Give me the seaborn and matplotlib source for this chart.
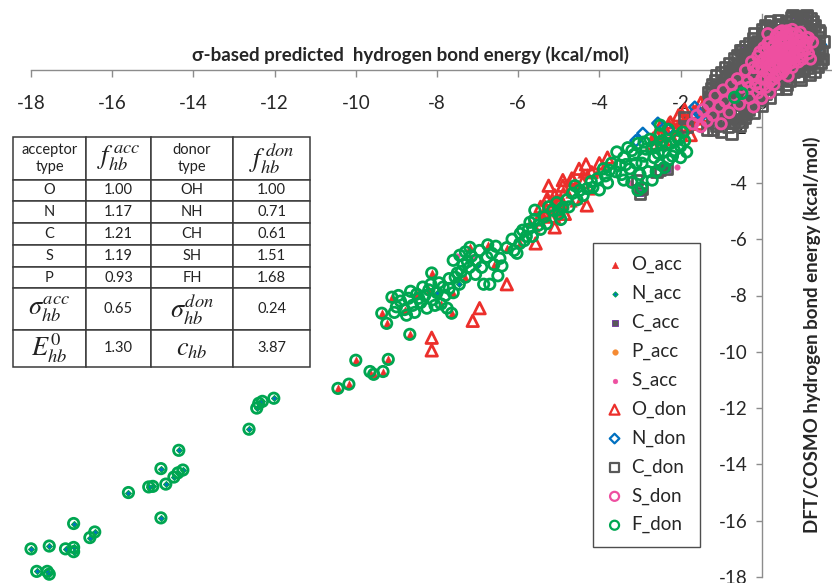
import matplotlib
matplotlib.use("Agg")
import matplotlib.pyplot as plt
import seaborn as sns

sns.set_theme(style="white")
plt.rcParams['font.family'] = ['Lato', 'DejaVu Sans']
plt.rcParams['mathtext.fontset'] = 'stix'

# ---------------- data ----------------
F_don_x = [-18.0, -17.55, -17.86, -17.6, -17.55, -17.15, -16.95, -16.95, -16.95, -16.55, -16.43,
           -15.6, -15.1, -15.0, -14.68, -14.8, -14.48, -14.38, -14.26, -14.36, -14.8,
           -12.63, -12.44, -12.39, -12.3, -12.02,
           -10.44, -10.17, -9.65, -9.56, -9.33, -10.0, -9.2, -8.67, -9.36, -9.24, -9.11, -8.13,
           -9.0, -8.9, -8.8, -8.7, -8.6, -8.5, -8.4, -8.3, -8.2, -8.1, -8.0, -7.9, -7.85, -7.75,
           -7.7, -7.6, -7.5, -7.45, -7.35, -7.3, -7.2, -7.15, -7.6, -7.44, -6.77, -6.45, -7.19,
           -6.75, -6.9, -6.6, -6.5, -6.85, -6.7, -7.64,
           -9.05, -8.95, -8.75, -8.65, -8.55, -8.45, -8.35, -8.25, -8.15, -8.05, -7.95, -7.8,
           -7.7, -7.55, -7.4, -7.25, -7.05, -6.95, -6.65, -6.55, -7.3, -7.05, -6.4,
           -6.28, -6.03, -5.96, -5.89, -5.8, -5.71, -5.59, -5.5, -5.35, -5.15, -5.0, -4.9, -4.8,
           -4.66, -4.55, -4.48, -4.3, -4.16, -4.05, -3.9, -3.8,
           -6.15, -6.1, -5.95, -5.85, -5.75, -5.65, -5.6, -5.45, -5.3, -5.25, -5.05, -4.95,
           -4.75, -4.6, -4.4, -4.2, -4.0, -3.85, -3.75,
           -3.57, -3.5, -3.4, -3.3, -3.25, -3.2, -3.15, -3.05, -3.05, -2.96, -2.95, -2.85, -2.8,
           -2.75, -2.65, -2.6, -2.5, -2.45, -2.4, -2.3, -2.25, -2.15, -2.1, -2.0, -1.9, -1.85,
           -3.45, -2.7, -3.7,
           -3.6, -3.35, -3.1, -3.0, -2.9, -2.7, -2.55, -2.35, -2.2, -2.05, -1.95, -2.5, -2.9,
           -3.2, -2.6, -2.4, -2.0, -3.4, -2.5, -2.3,
           -0.67, -0.49]
F_don_y = [-17.0, -16.9, -17.8, -17.8, -17.9, -17.0, -16.95, -17.1, -16.1, -16.6, -16.4,
           -15.0, -14.8, -14.78, -14.7, -14.15, -14.45, -14.3, -14.2, -13.5, -15.9,
           -12.75, -12.0, -11.83, -11.76, -11.65,
           -11.3, -11.15, -10.7, -10.8, -10.7, -10.3, -10.27, -9.38, -8.63, -8.99, -8.06, -7.2,
           -8.4, -8.2, -8.5, -8.1, -8.35, -7.95, -8.25, -8.0, -7.8, -8.15, -7.9, -8.3, -7.7, -8.45,
           -7.4, -7.9, -7.2, -7.6, -6.9, -7.35, -7.0, -6.6, -6.75, -6.57, -6.64, -6.68, -6.29,
           -6.2, -7.0, -6.9, -7.3, -7.6, -7.6, -8.63,
           -8.6, -8.0, -8.7, -7.85, -8.6, -8.1, -7.7, -8.45, -7.6, -8.35, -7.55, -8.0,
           -7.75, -7.35, -7.15, -6.8, -6.75, -6.4, -6.5, -6.25, -6.45, -7.25, -6.95,
           -6.3, -6.5, -6.15, -5.68, -5.9, -5.4, -4.97, -5.5, -5.2, -4.97, -5.1, -4.87, -4.6,
           -4.37, -4.6, -4.26, -4.2, -4.16, -3.85, -3.5, -4.0,
           -6.0, -6.4, -5.8, -6.05, -5.65, -5.9, -5.3, -5.65, -5.45, -4.85, -4.7, -5.3,
           -4.85, -4.1, -4.45, -3.95, -4.25, -3.75, -3.55,
           -2.9, -3.37, -3.1, -2.75, -3.5, -3.98, -3.0, -4.26, -2.6, -4.16, -3.3, -2.8, -3.6,
           -2.45, -3.1, -2.7, -3.35, -2.5, -2.9, -3.2, -2.6, -2.85, -2.35, -2.7, -2.5, -2.9,
           -3.7, -3.9, -3.3,
           -3.6, -3.35, -3.3, -3.7, -2.55, -2.75, -2.95, -2.65, -3.05, -2.45, -2.2, -2.25, -3.05,
           -2.85, -3.6, -3.45, -3.1, -3.9, -1.95, -2.1,
           -0.96, -0.82]

O_don_x = [-8.13, -8.13, -7.12, -6.95, -6.28, -5.57, -5.1, -5.1, -4.68, -4.33, -4.19, -4.31,
           -4.41, -4.66,
           -5.5, -5.45, -5.35, -5.3, -5.2, -5.15, -5.0, -4.95, -4.85, -5.25, -4.9,
           -4.0, -3.8, -4.5, -4.9,
           -2.7, -2.6, -2.5, -2.45, -2.35, -2.25, -2.2, -2.1, -2.05, -1.95, -1.9, -1.8, -1.75,
           -1.65, -1.55, -1.5, -1.4, -1.35, -1.2, -1.05,
           -0.25, -0.1, -0.45]
O_don_y = [-9.5, -9.95, -8.9, -8.45, -7.6, -6.15, -5.58, -4.44, -3.84, -3.34, -3.62, -4.8,
           -3.98, -3.9,
           -5.3, -4.85, -5.05, -4.6, -5.2, -4.8, -4.95, -4.6, -5.1, -4.1, -3.9,
           -3.3, -3.1, -3.5, -4.1,
           -2.6, -2.3, -2.0, -2.6, -2.2, -1.85, -2.45, -2.1, -1.6, -1.95, -1.4, -1.75, -2.3,
           -1.5, -1.9, -1.15, -1.6, -1.0, -0.8, -0.5,
           0.65, 0.5, 0.3]

O_acc_x = [-10.44, -10.17, -9.65, -9.56, -9.33, -10.0, -9.2, -8.67, -9.36, -9.24, -9.11, -8.13,
           -8.8, -8.5, -8.2, -7.9, -7.6, -7.3, -7.19, -6.75, -7.64, -6.6, -6.28, -5.96, -5.71,
           -5.4, -5.2, -5.0, -5.3, -4.9, -4.5, -4.2,
           -2.6, -2.4, -2.2, -2.0, -1.8, -1.6, -1.5, -1.3, -0.2,
           -2.7, -2.55, -2.45, -2.3, -2.15, -2.05, -1.95, -1.85, -1.7, -1.65, -1.45, -1.4, -1.25,
           -5.45, -5.35, -5.1, -5.05, -4.85, -4.75, -4.6, -4.45, -4.3, -5.55, -4.65,
           -5.25, -5.15, -4.95, -4.8, -4.05, -3.9]
O_acc_y = [-11.3, -11.15, -10.7, -10.8, -10.7, -10.3, -10.27, -9.38, -8.63, -8.99, -8.06, -7.2,
           -8.5, -7.95, -7.8, -8.3, -7.9, -7.35, -6.29, -6.2, -8.63, -6.9, -6.3, -6.15, -5.4,
           -5.1, -4.75, -5.0, -4.4, -4.2, -4.6, -4.3,
           -2.4, -2.1, -1.9, -2.2, -1.6, -1.4, -1.8, -1.2, 0.6,
           -2.3, -2.0, -2.35, -1.75, -2.2, -1.8, -1.5, -2.0, -1.3, -1.8, -1.35, -1.0, -0.9,
           -5.2, -4.7, -4.5, -5.3, -4.8, -4.4, -4.0, -3.7, -3.6, -5.6, -4.7,
           -5.0, -4.55, -4.75, -4.3, -3.6, -3.4]

N_acc_x = [-18.0, -17.55, -17.86, -17.6, -17.55, -17.15, -16.95, -16.95, -16.95, -16.55, -16.43,
           -15.6, -15.1, -15.0, -14.68, -14.8, -14.48, -14.38, -14.26, -14.36, -14.8,
           -12.63, -12.44, -12.39, -12.3, -12.02,
           -3.0, -2.7, -2.4, -7.0, -7.45, -8.0, 0.76, 1.1, 0.12, -0.47]
N_acc_y = [-17.0, -16.9, -17.8, -17.8, -17.9, -17.0, -16.95, -17.1, -16.1, -16.6, -16.4,
           -15.0, -14.8, -14.78, -14.7, -14.15, -14.45, -14.3, -14.2, -13.5, -15.9,
           -12.75, -12.0, -11.83, -11.76, -11.65,
           -2.9, -2.6, -2.8, -6.9, -7.6, -7.9, 1.95, 1.95, 1.53, 0.71]

C_acc_x = [0.76, 1.1, 0.12, -0.47, -1.9, -3.0, -2.34, 0.4, -0.6]
C_acc_y = [1.95, 1.95, 1.53, 0.71, -1.67, -4.37, -3.5, 0.9, -1.0]

P_acc_x = [0.3, 0.9, -0.6]
P_acc_y = [0.3, 0.8, -0.9]

S_acc_x = [-7.14, -7.5, -2.1, -3.25, 0.5, -1.0]
S_acc_y = [-6.64, -6.6, -3.45, -4.0, 0.6, -1.2]

N_don_x = [-2.93, -2.56, -1.65, -1.55, -1.48, -3.1, -2.3, 1.45]
N_don_y = [-2.24, -1.88, -1.31, -1.53, -1.6, -2.5, -2.1, 0.9]

C_don_x = [0.76, 1.1, 0.12, -0.47, -1.9, -1.85, -1.35, -1.2, -3.08, -2.96, -2.51, -2.34, -3.0,
           -2.59,
           0.72, 0.83, 0.98, 1.12, 1.22,
           0.08, 0.32, 0.48, 0.71, 0.92, 1.08, 1.31,
           -0.18, 0.02, 0.21, 0.42, 0.58, 0.81, 1.03, 1.19, 1.42,
           -0.31, -0.12, 0.11, 0.28, 0.52, 0.69, 0.91, 1.12, 1.33, 1.52,
           -0.52, -0.28, -0.09, 0.12, 0.31, 0.49, 0.72, 0.88, 1.11, 1.29, 1.48,
           -0.68, -0.49, -0.32, -0.08, 0.09, 0.33, 0.51, 0.68, 0.92, 1.08, 1.31, 1.5,
           -0.91, -0.72, -0.48, -0.29, -0.11, 0.12, 0.28, 0.49, 0.71, 0.88, 1.13, 1.38,
           -1.12, -0.88, -0.71, -0.52, -0.28, -0.12, 0.09, 0.32, 0.51, 0.69, 0.92, 1.18,
           -1.21, -0.98, -0.82, -0.58, -0.41, -0.19, 0.02, 0.21, 0.38, 0.62,
           -1.32, -1.08, -0.92, -0.69, -0.52, -0.31, -0.09, 0.11,
           -1.29, -1.12, -0.88, -0.71, -0.49, -0.28, -0.08,
           -1.31, -1.09, -0.91, -0.68, -0.52, -0.31,
           -1.22, -0.98, -0.79, -0.61, -0.42,
           -1.12, -0.83, -0.55,
           0.6, 0.85, 1.05, 1.25, 0.2, 0.4,
           0.0, 0.2, 0.4, 0.6, 0.8, 1.0, 1.2, 1.4,
           -0.2, 0.0, 0.2, 0.4, 0.6, 0.8, 1.0, 1.2, 1.4,
           -0.4, -0.2, 0.0, 0.2, 0.4, 0.6, 0.8, 1.0, 1.2, 1.4,
           -0.6, -0.4, -0.2, 0.0, 0.2, 0.4, 0.6, 0.8, 1.0, 1.2, 1.4,
           -0.8, -0.6, -0.4, -0.2, 0.0, 0.2, 0.4, 0.6, 0.8, 1.0, 1.2, 1.45,
           -1.0, -0.8, -0.6, -0.4, -0.2, 0.0, 0.2, 0.4, 0.6, 0.8, 1.0, 1.3,
           -1.15, -0.9, -0.7, -0.5, -0.3, -0.1, 0.1, 0.3, 0.5, 0.7, 0.95,
           -1.25, -1.0, -0.8, -0.6, -0.4, -0.2, 0.0, 0.2, 0.4, 0.6,
           -1.3, -1.0, -0.8, -0.6, -0.4, -0.2, 0.0, 0.2,
           -1.2, -1.0, -0.8, -0.6, -0.4, -0.2, 0.0,
           -1.2, -1.0, -0.8, -0.6, -0.4, -0.2,
           -1.15, -0.9, -0.7, -0.5,
           -1.0, -0.75]
C_don_y = [1.95, 1.95, 1.53, 0.71, -1.67, -2.0, -2.13, -2.13, -3.9, -4.2, -3.55, -3.5, -4.37,
           -3.62,
           1.88, 1.93, 1.86, 1.91, 1.84,
           1.62, 1.57, 1.64, 1.58, 1.63, 1.56, 1.6,
           1.32, 1.27, 1.34, 1.28, 1.33, 1.26, 1.31, 1.29, 1.35,
           0.98, 1.03, 0.97, 1.02, 0.96, 1.04, 0.99, 1.01, 0.97, 1.03,
           0.72, 0.68, 0.73, 0.67, 0.71, 0.69, 0.74, 0.66, 0.72, 0.7, 0.68,
           0.42, 0.38, 0.43, 0.37, 0.41, 0.39, 0.44, 0.36, 0.42, 0.38, 0.41, 0.4,
           0.12, 0.08, 0.13, 0.07, 0.11, 0.09, 0.14, 0.06, 0.12, 0.1, 0.08, 0.13,
           -0.18, -0.22, -0.17, -0.23, -0.19, -0.21, -0.16, -0.24, -0.18, -0.2, -0.22, -0.17,
           -0.48, -0.52, -0.47, -0.53, -0.49, -0.51, -0.46, -0.54, -0.48, -0.5,
           -0.78, -0.82, -0.77, -0.83, -0.79, -0.81, -0.76, -0.84,
           -1.08, -1.12, -1.07, -1.13, -1.09, -1.11, -1.06,
           -1.38, -1.42, -1.37, -1.43, -1.39, -1.41,
           -1.68, -1.72, -1.67, -1.73, -1.69,
           -1.98, -2.02, -1.97,
           1.75, 1.77, 1.73, 1.76, 1.74, 1.78,
           1.45, 1.47, 1.43, 1.46, 1.44, 1.48, 1.45, 1.43,
           1.15, 1.17, 1.13, 1.16, 1.14, 1.18, 1.15, 1.13, 1.16,
           0.85, 0.87, 0.83, 0.86, 0.84, 0.88, 0.85, 0.83, 0.86, 0.84,
           0.55, 0.57, 0.53, 0.56, 0.54, 0.58, 0.55, 0.53, 0.56, 0.54, 0.57,
           0.25, 0.27, 0.23, 0.26, 0.24, 0.28, 0.25, 0.23, 0.26, 0.24, 0.27, 0.25,
           -0.05, -0.03, -0.07, -0.04, -0.06, -0.02, -0.05, -0.07, -0.04, -0.06, -0.03, -0.05,
           -0.35, -0.33, -0.37, -0.34, -0.36, -0.32, -0.35, -0.37, -0.34, -0.36, -0.33,
           -0.65, -0.63, -0.67, -0.64, -0.66, -0.62, -0.65, -0.67, -0.64, -0.66,
           -0.95, -0.93, -0.97, -0.94, -0.96, -0.92, -0.95, -0.97,
           -1.25, -1.23, -1.27, -1.24, -1.26, -1.22, -1.25,
           -1.55, -1.53, -1.57, -1.54, -1.56, -1.52,
           -1.85, -1.83, -1.87, -1.84,
           -2.2, -2.25]

S_don_x = [-1.7, -1.6, -1.5, -1.45, -1.35, -1.3, -1.2, -1.15, -1.05, -1.0, -0.95, -0.9, -0.8,
           -0.75, -0.7, -0.6, -0.55, -0.5, -0.4, -0.35, -0.3, -0.25, -0.2, -0.1, -0.05, 0.0,
           0.05, 0.1, 0.15, 0.2, 0.25, 0.3, 0.35, 0.4, 0.45, 0.5, 0.55, 0.6, 0.65, 0.7, 0.75,
           0.8, 0.85, 0.9, 0.95, 1.0, 1.1, 1.15, 1.2, 0.3, 0.5, 0.0, -0.2, 0.2, 0.45, 0.6, 0.15,
           0.94, 1.1, 0.62,
           0.1, 0.2, 0.3, 0.4, 0.5, 0.6, 0.7, 0.8, 0.9, 1.0, 0.35, 0.55, 0.75, 0.65, 0.85, 0.45,
           0.25, 0.05, -0.1, 0.0, 0.15, 0.35, 0.55, 0.7, 0.9, 1.05, 1.15, 1.25, 0.95, 0.75, 0.4,
           0.6, 0.2, -0.15, 0.1, 0.3, 0.5, 0.8, 0.7, 0.45,
           -0.3, -0.1, 0.1, 0.3, 0.0, 0.2, -0.2, 0.4, 0.6, 0.8, 1.0, 0.25, 0.5, 0.15, 0.35,
           -0.05, 0.7, 0.9, 1.1, 0.55]
S_don_y = [-1.9, -1.6, -2.0, -1.4, -1.8, -1.2, -1.6, -0.9, -1.3, -1.9, -0.7, -1.1, -1.5,
           -0.5, -0.9, -0.3, -1.2, -0.6, 0.0, -0.4, -1.0, 0.3, -0.2, 0.5, -0.6, 0.1,
           0.8, -0.3, 0.4, 1.0, 0.0, 0.6, 1.2, 0.2, 0.8, 1.4, 0.4, 1.0, -0.2, 0.7, 1.3,
           0.3, 0.9, 1.2, 0.5, 1.1, 0.8, 1.15, 0.4, -0.5, -0.1, -1.0, -1.3, -0.8, 1.35, 1.3, 1.3,
           1.07, 1.17, 1.4,
           0.2, 0.5, 0.9, 0.5, 0.9, 0.6, 1.0, 0.6, 1.0, 0.7, 0.3, 0.2, 0.1, 1.2, 1.3, 1.1,
           0.8, 0.4, 0.1, -0.3, -0.1, -0.2, 0.0, 0.4, 0.3, 0.9, 0.6, 1.0, 1.35, 1.45, 1.3,
           0.3, -0.4, -0.5, 0.7, 0.1, 0.5, 0.85, 0.75, 0.65,
           -0.6, -0.8, -0.6, -0.3, 0.3, 0.2, 0.1, -0.1, 0.1, 0.45, 0.4, 0.55, 0.75, 0.95, 0.7,
           0.65, 0.25, 0.65, 1.0, 1.05]

x_ticks = [-18, -16, -14, -12, -10, -8, -6, -4, -2, 0]
y_ticks = [-18, -16, -14, -12, -10, -8, -6, -4, -2, 0]

table_rows = [
    ["acceptor\ntype", r"$f_{hb}^{\,acc}$", "donor\ntype", r"$f_{hb}^{\,don}$"],
    ["O", "1.00", "OH", "1.00"],
    ["N", "1.17", "NH", "0.71"],
    ["C", "1.21", "CH", "0.61"],
    ["S", "1.19", "SH", "1.51"],
    ["P", "0.93", "FH", "1.68"],
    [r"$\sigma_{hb}^{acc}$", "0.65", r"$\sigma_{hb}^{don}$", "0.24"],
    [r"$E_{hb}^{0}$", "1.30", r"$c_{hb}$", "3.87"],
]

# ---------------- colours ----------------
RED = '#EC2F2B'
GREEN = '#00A651'
GRAY = '#595959'
PINK = '#EE4FA0'
BLUE = '#0070C0'
ORANGE = '#F58A32'
PURPLE = '#7030A0'

# ---------------- figure ----------------
fig = plt.figure(figsize=(8.32, 5.83), dpi=100)
ax = fig.add_axes([31/832, 6/583, (832-31)/832, (577-14)/583])

series = [
    ("O_acc", O_acc_x, O_acc_y, dict(marker='^', s=30, color=RED, edgecolor=RED, linewidth=0.3)),
    ("N_acc", N_acc_x, N_acc_y, dict(marker='D', s=9, color=BLUE, edgecolor=GREEN, linewidth=0.8)),
    ("C_acc", C_acc_x, C_acc_y, dict(marker='s', s=18, color=GRAY, edgecolor=PURPLE, linewidth=0.6)),
    ("P_acc", P_acc_x, P_acc_y, dict(marker='o', s=22, color=ORANGE, edgecolor=ORANGE, linewidth=0.3)),
    ("S_acc", S_acc_x, S_acc_y, dict(marker='o', s=16, color=PINK, edgecolor=PINK, linewidth=0.3)),
    ("O_don", O_don_x, O_don_y, dict(marker='^', s=68, facecolor='none', edgecolor=RED, linewidth=2.0)),
    ("N_don", N_don_x, N_don_y, dict(marker='D', s=32, facecolor='none', edgecolor=BLUE, linewidth=1.8)),
    ("C_don", C_don_x, C_don_y, dict(marker='s', s=56, facecolor='none', edgecolor=GRAY, linewidth=2.0)),
    ("S_don", S_don_x, S_don_y, dict(marker='o', s=56, facecolor='none', edgecolor=PINK, linewidth=2.0)),
    ("F_don", F_don_x, F_don_y, dict(marker='o', s=56, facecolor='none', edgecolor=GREEN, linewidth=2.0)),
]
for i, (name, xs, ys, kw) in enumerate(series):
    sns.scatterplot(x=xs, y=ys, ax=ax, label=name, zorder=3 + i, clip_on=False, **kw)

ax.set_xlim(-18, 1.73)
ax.set_ylim(-18, 2)
ax.set_xticks(x_ticks)
ax.set_yticks(y_ticks)
ax.set_xticklabels([str(t) for t in x_ticks])
ax.set_yticklabels([str(t) for t in y_ticks])

for s in ['top', 'right']:
    ax.spines[s].set_visible(False)
ax.spines['left'].set_position(('data', 0))
ax.spines['bottom'].set_position(('data', 0))
for s in ['left', 'bottom']:
    ax.spines[s].set_color('#8c8c8c')
    ax.spines[s].set_linewidth(1.0)
    ax.spines[s].set_zorder(2)
ax.tick_params(axis='x', direction='out', length=5, width=1, color='#8c8c8c',
               pad=13, labelsize=13.5, bottom=True)
ax.tick_params(axis='y', direction='out', length=4, width=1, color='#8c8c8c',
               pad=6, labelsize=13.5, left=True)
ax.set_xlabel('')
ax.set_ylabel('')
ax.patch.set_alpha(0)

fig.text(410/832, 1 - 55/583, 'σ-based predicted  hydrogen bond energy (kcal/mol)',
         ha='center', va='center', fontsize=13.5, fontweight='bold')
fig.text(812/832, 1 - 335/583, 'DFT/COSMO hydrogen bond energy (kcal/mol)',
         ha='center', va='center', rotation=90, fontsize=13.5, fontweight='bold')

leg = ax.legend(loc='upper left', bbox_to_anchor=(593/832, 1 - 243/583),
                bbox_transform=fig.transFigure, frameon=True, fancybox=False,
                fontsize=13.5, labelspacing=0.62, handlelength=0.9, handletextpad=0.45,
                borderpad=0.7, borderaxespad=0, markerscale=1.0)
leg.get_frame().set_edgecolor('#222222')
leg.get_frame().set_linewidth(1.0)
leg.set_zorder(20)
# legend symbols a little smaller, like the reference
for h in leg.legend_handles:
    try:
        sz = h.get_sizes()
        h.set_sizes([v * 0.75 for v in sz])
        lw = h.get_linewidths()
        h.set_linewidths([min(v, 1.6) for v in lw])
    except Exception:
        pass

# ---------------- table ----------------
tax = fig.add_axes([13/832, 1 - 367/583, (310-13)/832, (367-137)/583])
tax.axis('off')
tbl = tax.table(cellText=table_rows, cellLoc='center', bbox=[0, 0, 1, 1])
tbl.auto_set_font_size(False)
col_w = [73, 65, 82, 77]
row_h = [43, 21, 22, 22, 22, 21, 42, 37]
for (r, c), cell in tbl.get_celld().items():
    cell.set_width(col_w[c])
    cell.set_height(row_h[r])
    cell.set_edgecolor('#3a3a3a')
    cell.set_linewidth(1.1)
    txt = cell.get_text()
    t = txt.get_text()
    if t.startswith('$'):
        txt.set_fontsize(19 if r in (0, 6, 7) else 12)
    else:
        txt.set_fontsize(10.5)
    txt.set_color('#222222')

fig.savefig('out.png', dpi=100)
